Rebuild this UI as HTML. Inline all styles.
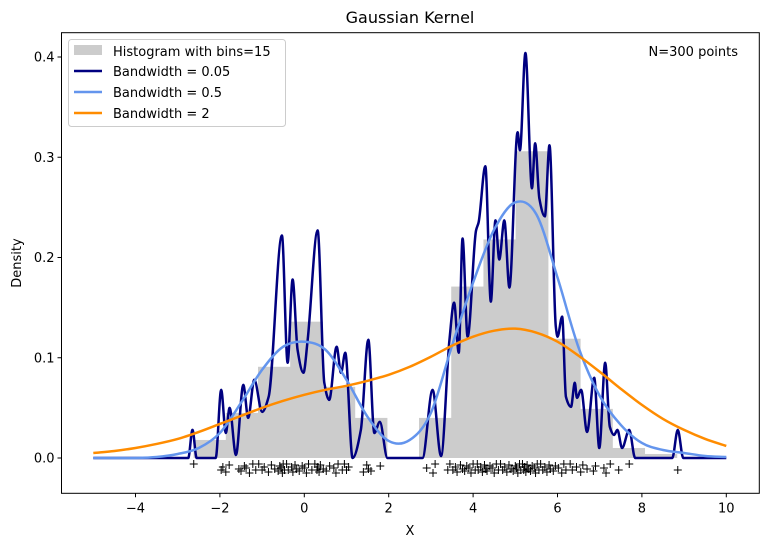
<!DOCTYPE html>
<html><head><meta charset="utf-8"><style>
html,body{margin:0;padding:0;background:#fff;}
svg{display:block;font-family:"DejaVu Sans","Liberation Sans",sans-serif;}
</style></head><body>
<div style="position:relative;width:768px;height:547px">
<svg id="chart" width="768" height="547" viewBox="0 0 768 547" style="position:absolute;left:0;top:0">
<g id="plot"></g>
</svg>
<svg width="768" height="547" style="position:absolute;left:0;top:0">
<text x="410" y="23" text-anchor="middle" font-size="16" fill="#000">Gaussian Kernel</text>
<text x="410" y="535" text-anchor="middle" font-size="13" fill="#000">X</text>
<text x="21" y="263" text-anchor="middle" font-size="13" fill="#000" transform="rotate(-90 21 263)">Density</text>
<text x="738" y="56" text-anchor="end" font-size="13" fill="#000">N=300 points</text>
<g>
<rect x="68.5" y="39.5" width="217" height="87" rx="3" fill="#fff" fill-opacity="0.8" stroke="#cccccc"/>
<rect x="74" y="45" width="28" height="10" fill="#cccccc"/>
<text x="113" y="56" font-size="13" fill="#000">Histogram with bins=15</text>
<line x1="74" x2="102" y1="71" y2="71" stroke="#000080" stroke-width="2.5"/>
<text x="113" y="76" font-size="13" fill="#000">Bandwidth = 0.05</text>
<line x1="74" x2="102" y1="92" y2="92" stroke="#6495ed" stroke-width="2.5"/>
<text x="113" y="97" font-size="13" fill="#000">Bandwidth = 0.5</text>
<line x1="74" x2="102" y1="113" y2="113" stroke="#ff8c00" stroke-width="2.5"/>
<text x="113" y="118" font-size="13" fill="#000">Bandwidth = 2</text>
</g>
</svg>
</div>
<script>
const histDensity = [0.018,0.045,0.091,0.136,0.071,0.040,0.0,0.040,0.171,0.218,0.306,0.119,0.049,0.010,0.004];
const histStart = -2.616, histEnd = 8.83;
const gridX = [-5,-4.5,-4,-3.5,-3,-2.5,-2,-1.5,-1,-0.5,0,0.5,1,1.5,2,2.5,3,3.5,4,4.5,5,5.5,6,6.5,7,7.5,8,8.5,9,9.5,10];
const bw2 = [0.005,0.007,0.010,0.014,0.019,0.026,0.034,0.042,0.050,0.057,0.063,0.068,0.072,0.077,0.083,0.091,0.101,0.112,0.121,0.127,0.129,0.125,0.116,0.102,0.086,0.069,0.053,0.039,0.028,0.019,0.012];
const bw05 = [0,0,0,0.001,0.004,0.010,0.025,0.055,0.088,0.111,0.116,0.108,0.078,0.041,0.017,0.018,0.045,0.112,0.175,0.228,0.255,0.243,0.180,0.110,0.062,0.033,0.015,0.008,0.005,0.002,0.001];
const bw005X = [-5,-2.75,-2.65,-2.55,-2.1,-1.97,-1.86,-1.77,-1.62,-1.445,-1.33,-1.185,-1.0,-0.845,-0.53,-0.395,-0.277,-0.16,-0.02,0.08,0.316,0.474,0.59,0.766,0.87,0.97,1.145,1.34,1.517,1.66,1.79,1.97,2.8,3.04,3.24,3.44,3.55,3.66,3.75,3.87,4.07,4.13,4.29,4.42,4.53,4.62,4.74,4.86,5.055,5.11,5.24,5.395,5.47,5.57,5.70,5.81,5.96,6.0,6.11,6.2,6.32,6.41,6.46,6.56,6.70,6.87,6.99,7.13,7.24,7.34,7.42,7.53,7.70,7.84,8.72,8.85,8.98,10];
const bw005Y = [0,0,0.028,0,0,0.068,0.025,0.050,0.003,0.073,0.040,0.078,0.046,0.061,0.222,0.095,0.178,0.108,0.085,0.118,0.227,0.075,0.058,0.111,0.085,0.105,0,0.028,0.118,0.025,0.036,0,0,0.068,0.002,0.118,0.155,0.105,0.219,0.121,0.227,0.235,0.291,0.156,0.237,0.198,0.237,0.17,0.325,0.307,0.404,0.269,0.314,0.259,0.241,0.312,0.131,0.121,0.141,0.061,0.051,0.075,0.06,0.068,0.026,0.080,0.01,0.095,0.031,0.023,0.028,0.01,0.028,0,0,0.028,0,0];
const rugX = [-2.62,-1.97,-1.93,-1.86,-1.78,-1.55,-1.5,-1.42,-1.38,-1.3,-1.22,-1.15,-1.08,-1.0,-0.95,-0.85,-0.78,-0.7,-0.62,-0.58,-0.55,-0.52,-0.5,-0.47,-0.42,-0.38,-0.3,-0.27,-0.22,-0.18,-0.12,-0.05,0.0,0.05,0.1,0.18,0.25,0.3,0.32,0.35,0.38,0.45,0.52,0.6,0.7,0.75,0.8,0.9,0.95,1.0,1.05,1.4,1.48,1.52,1.58,1.8,
2.9,3.05,3.1,3.4,3.45,3.52,3.58,3.62,3.7,3.75,3.8,3.85,3.9,3.95,4.0,4.05,4.1,4.12,4.18,4.22,4.27,4.3,4.33,4.4,4.45,4.5,4.55,4.6,4.65,4.7,4.75,4.8,4.85,4.9,4.95,5.0,5.03,5.06,5.1,5.13,5.17,5.2,5.22,5.25,5.28,5.32,5.36,5.4,5.45,5.48,5.52,5.56,5.6,5.65,5.7,5.75,5.8,5.83,5.9,5.95,6.02,6.1,6.15,6.2,6.3,6.35,6.45,6.55,6.6,6.7,6.85,6.9,7.1,7.15,7.25,7.45,7.7,8.85];
const rugJitter = [0.006,0.012,0.009,0.014,0.007,0.011,0.013,0.008,0.010,0.015,0.006,0.012];
const xTicks = [-4,-2,0,2,4,6,8,10];
const yTicks = [0.0,0.1,0.2,0.3,0.4];
const yTickLabels = ["0.0","0.1","0.2","0.3","0.4"];

const L=61.5,R=759.3,T=32.7,B=493.3;
const X0=304.3, PX=42.2, Y0=458, PY=1002.5;
const sx = v => X0 + v*PX;
const sy = v => Y0 - v*PY;
const NS="http://www.w3.org/2000/svg";
const g=document.getElementById('plot');
function mk(tag, attrs, parent){const e=document.createElementNS(NS,tag);for(const k in attrs)e.setAttribute(k,attrs[k]);(parent||g).appendChild(e);return e;}

// histogram
const bw=(histEnd-histStart)/histDensity.length;
histDensity.forEach((d,i)=>{
  if(d<=0) return;
  const x0=histStart+i*bw;
  const r=mk('rect',{x:sx(x0)-0.3,y:sy(d),width:sx(x0+bw)-sx(x0)+0.6,height:sy(0)-sy(d),fill:'#cccccc'});
  
  
});

function monotone(xs,ys){
  const n=xs.length,d=[],m=[];
  for(let i=0;i<n-1;i++)d.push((ys[i+1]-ys[i])/(xs[i+1]-xs[i]));
  m[0]=d[0];m[n-1]=d[n-2];
  for(let i=1;i<n-1;i++){ if(d[i-1]*d[i]<=0)m[i]=0; else { const w1=2*(xs[i+1]-xs[i])+(xs[i]-xs[i-1]), w2=(xs[i+1]-xs[i])+2*(xs[i]-xs[i-1]); m[i]=(w1+w2)/(w1/d[i-1]+w2/d[i]); } }
  return cubicPath(xs,ys,m);
}
function catmull(xs,ys){
  const n=xs.length,m=[];
  for(let i=0;i<n;i++){const a=Math.max(0,i-1),b=Math.min(n-1,i+1);m.push((ys[b]-ys[a])/(xs[b]-xs[a]));}
  return cubicPath(xs,ys,m);
}
function cubicPath(xs,ys,m){
  let p='M'+sx(xs[0]).toFixed(2)+','+sy(ys[0]).toFixed(2);
  for(let i=0;i<xs.length-1;i++){const h=xs[i+1]-xs[i];
    p+=' C'+sx(xs[i]+h/3).toFixed(2)+','+sy(ys[i]+m[i]*h/3).toFixed(2)+' '+sx(xs[i+1]-h/3).toFixed(2)+','+sy(ys[i+1]-m[i+1]*h/3).toFixed(2)+' '+sx(xs[i+1]).toFixed(2)+','+sy(ys[i+1]).toFixed(2);}
  return p;
}
const p1=mk('path',{d:monotone(bw005X,bw005Y),fill:'none',stroke:'#000080','stroke-width':2.5,'stroke-linejoin':'round'});


const p2=mk('path',{d:catmull(gridX,bw05),fill:'none',stroke:'#6495ed','stroke-width':2.5});


const p3=mk('path',{d:catmull(gridX,bw2),fill:'none',stroke:'#ff8c00','stroke-width':2.5});



rugX.forEach((v,i)=>{
  const cx=sx(v),cy=sy(-rugJitter[i%rugJitter.length]);
  const m=mk('path',{d:`M${cx-4},${cy}H${cx+4}M${cx},${cy-4}V${cy+4}`,stroke:'#000','stroke-width':1});
  
  
});

const fr=mk('rect',{x:L,y:T,width:R-L,height:B-T,fill:'none',stroke:'#000','stroke-width':1});



xTicks.forEach(v=>{
  const t=mk('line',{x1:sx(v),x2:sx(v),y1:B,y2:B+4,stroke:'#000'});
  
  
  const tx=mk('text',{x:sx(v),y:B+19,'text-anchor':'middle','font-size':13,fill:'#000'});
  tx.textContent=(v<0?'\u2212'+(-v):String(v));
  
  
});
yTicks.forEach((v,i)=>{
  const t=mk('line',{x1:L-4,x2:L,y1:sy(v),y2:sy(v),stroke:'#000'});
  
  
  const tx=mk('text',{x:L-7,y:sy(v)+4.5,'text-anchor':'end','font-size':13,fill:'#000'});
  tx.textContent=yTickLabels[i];
  
  
});
</script>
</body></html>
